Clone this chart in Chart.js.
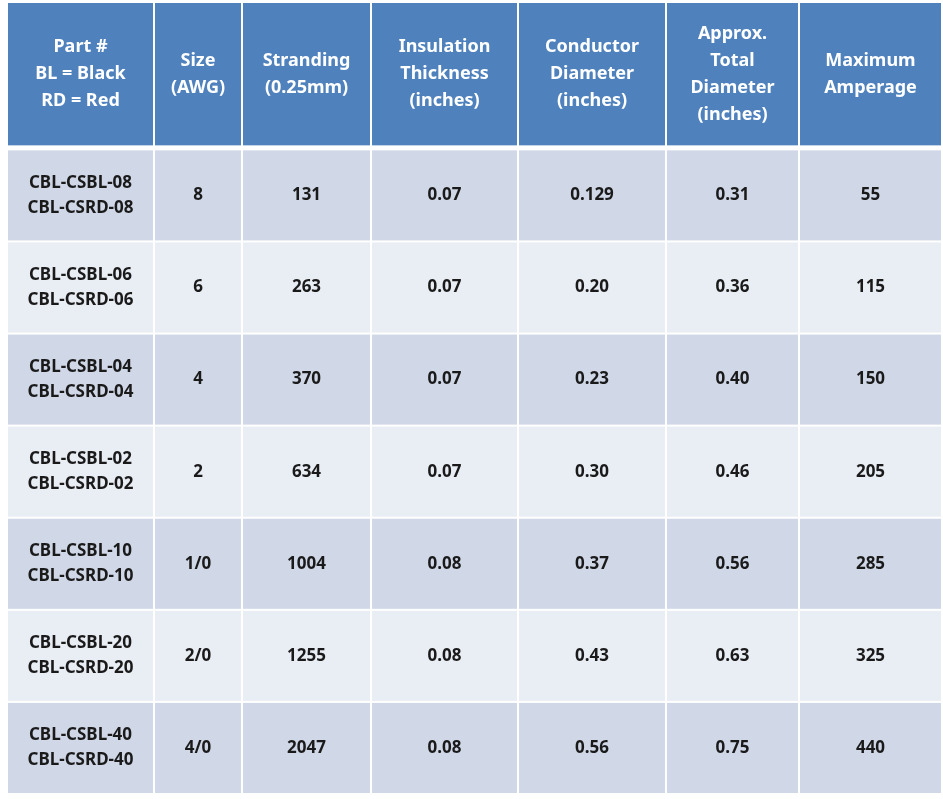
<!DOCTYPE html>
<html>
<head>
<meta charset="utf-8">
<script src="https://cdn.jsdelivr.net/npm/chart.js@4/dist/chart.umd.min.js"></script>
<style>
  html, body { margin: 0; padding: 0; background: #fff; }
  #wrap { width: 943px; height: 799px; }
</style>
</head>
<body>
<div id="wrap"><canvas id="myChart"></canvas></div>
<script>
// table data
const headers = [
  ["Part #", "BL = Black", "RD = Red"],
  ["Size", "(AWG)"],
  ["Stranding", "(0.25mm)"],
  ["Insulation", "Thickness", "(inches)"],
  ["Conductor", "Diameter", "(inches)"],
  ["Approx.", "Total", "Diameter", "(inches)"],
  ["Maximum", "Amperage"]
];
const partNumbers = [
  ["CBL-CSBL-08", "CBL-CSRD-08"],
  ["CBL-CSBL-06", "CBL-CSRD-06"],
  ["CBL-CSBL-04", "CBL-CSRD-04"],
  ["CBL-CSBL-02", "CBL-CSRD-02"],
  ["CBL-CSBL-10", "CBL-CSRD-10"],
  ["CBL-CSBL-20", "CBL-CSRD-20"],
  ["CBL-CSBL-40", "CBL-CSRD-40"]
];
const sizes = ["8", "6", "4", "2", "1/0", "2/0", "4/0"];
const stranding = ["131", "263", "370", "634", "1004", "1255", "2047"];
const insulation = ["0.07", "0.07", "0.07", "0.07", "0.08", "0.08", "0.08"];
const conductor = ["0.129", "0.20", "0.23", "0.30", "0.37", "0.43", "0.56"];
const totalDiameter = ["0.31", "0.36", "0.40", "0.46", "0.56", "0.63", "0.75"];
const amperage = ["55", "115", "150", "205", "285", "325", "440"];

// layout (axis units)
const colWidths = [147, 88, 129, 147, 148, 133, 143];
const headerHeight = 1.6;

const tablePlugin = {
  id: "table",
  afterDraw(chart) {
    const ctx = chart.ctx;
    const xs = chart.scales.x, ys = chart.scales.y;
    const edges = [0];
    colWidths.forEach(w => edges.push(edges[edges.length - 1] + w));
    const rows = [{ top: 0, bottom: headerHeight, header: true }];
    for (let i = 0; i < sizes.length; i++) {
      rows.push({ top: headerHeight + i, bottom: headerHeight + i + 1, index: i });
    }
    const columns = [partNumbers, sizes, stranding, insulation, conductor, totalDiameter, amperage];
    ctx.save();
    ctx.textAlign = "center";
    ctx.textBaseline = "middle";
    rows.forEach(r => {
      const y0 = ys.getPixelForValue(r.top), y1 = ys.getPixelForValue(r.bottom);
      for (let c = 0; c < colWidths.length; c++) {
        const x0 = xs.getPixelForValue(edges[c]), x1 = xs.getPixelForValue(edges[c + 1]);
        ctx.fillStyle = r.header ? "#4f81bd" : (r.index % 2 === 0 ? "#d0d8e8" : "#e9edf4");
        const gapBottom = r.header ? 5 : 2;
        ctx.fillRect(x0, y0, x1 - x0 - 2, y1 - y0 - gapBottom);
        let lines, lh;
        if (r.header) {
          lines = headers[c];
          ctx.fillStyle = "#ffffff";
          ctx.font = "bold 18px 'Noto Sans'";
          lh = 27;
        } else {
          const v = columns[c][r.index];
          lines = Array.isArray(v) ? v : [v];
          ctx.fillStyle = "#1a1a1a";
          ctx.font = "bold 17px 'Noto Sans'";
          lh = 25;
        }
        const cx = (x0 + x1 - 2) / 2;
        const cy = (y0 + y1 - gapBottom) / 2;
        lines.forEach((t, k) => {
          ctx.fillText(t, cx, cy + (k - (lines.length - 1) / 2) * lh);
        });
      }
    });
    ctx.restore();
  }
};

new Chart(document.getElementById("myChart"), {
  type: "scatter",
  data: { datasets: [] },
  options: {
    responsive: true,
    maintainAspectRatio: false,
    animation: false,
    layout: { padding: { left: 8, top: 3, right: 0, bottom: 4 } },
    plugins: { legend: false, tooltip: { enabled: false } },
    scales: {
      x: { type: "linear", min: 0, max: colWidths.reduce((a, b) => a + b, 0), display: false },
      y: { type: "linear", min: 0, max: headerHeight + sizes.length, reverse: true, display: false }
    }
  },
  plugins: [tablePlugin]
});
</script>
</body>
</html>
